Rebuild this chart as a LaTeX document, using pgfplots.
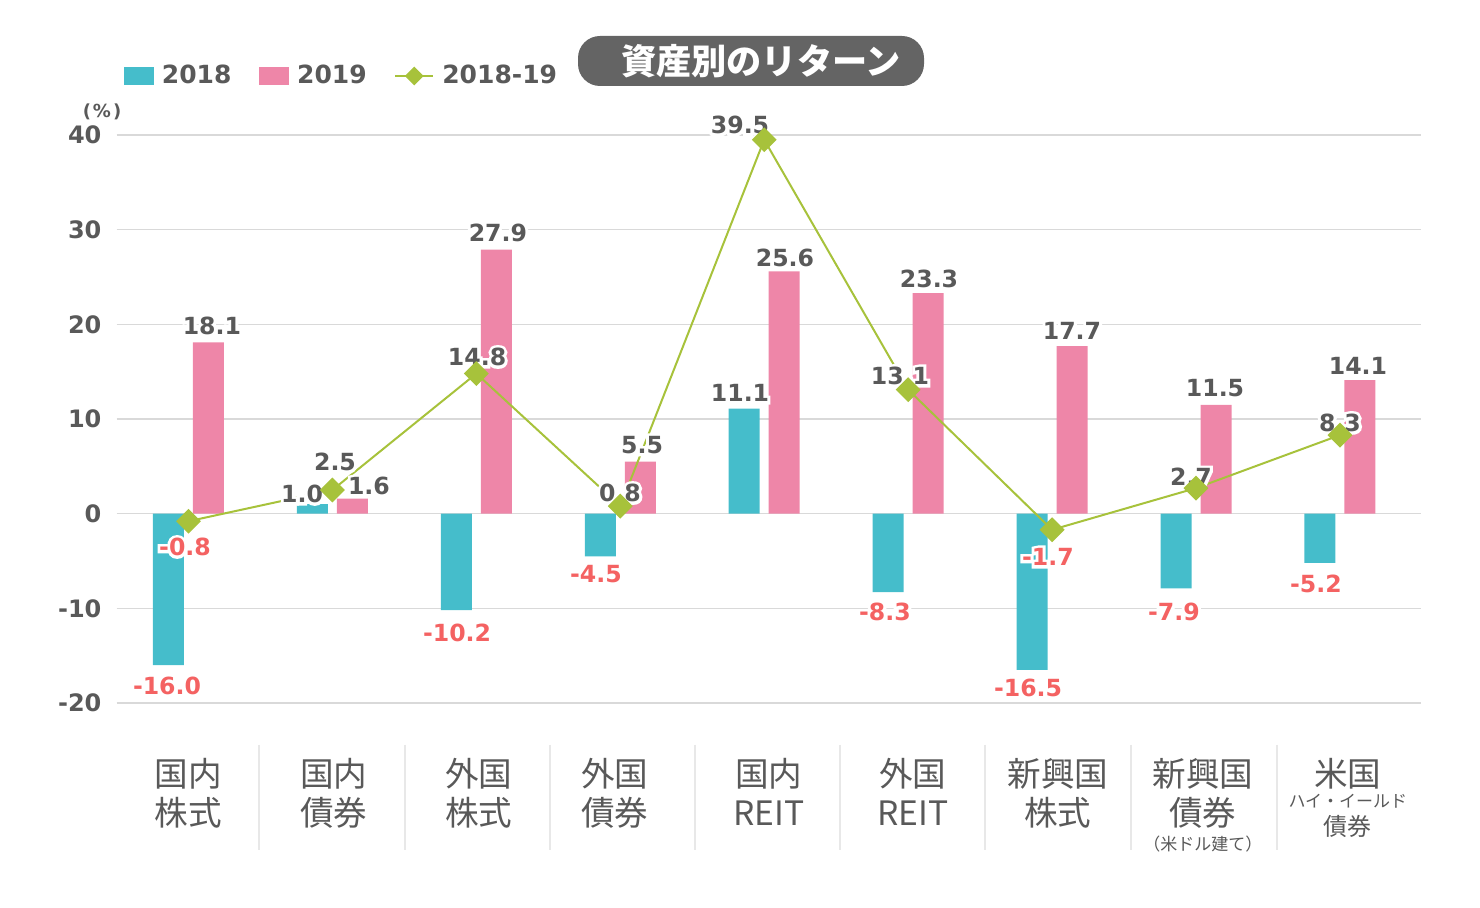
\documentclass[border=0pt]{standalone}
\usepackage{fontspec}
\setmainfont{DejaVu Sans}
\newfontfamily\halo{DejaVu Sans}[BoldFeatures={FakeBold=25}]
\newfontfamily\jp{Noto Sans CJK JP}
\usepackage{pgfplots}
\pgfplotsset{compat=1.18}
\definecolor{tealc}{HTML}{45BDCB}
\definecolor{pinkc}{HTML}{EE86A8}
\definecolor{greenc}{HTML}{A7C23B}
\definecolor{txt}{HTML}{595959}
\definecolor{negc}{HTML}{F46262}
\definecolor{gridc}{HTML}{D9D9D9}
\definecolor{sepc}{HTML}{E8E8E8}
\definecolor{titlebg}{HTML}{646464}
\newcommand{\lab}[3]{\node[font=\halo\bfseries\fontsize{11.8}{12}\selectfont, text=white, inner sep=0pt] at (axis cs:#1,#2) {#3};\node[font=\bfseries\fontsize{11.8}{12}\selectfont, text=txt, inner sep=0pt] at (axis cs:#1,#2) {#3};}
\newcommand{\labn}[3]{\node[font=\halo\bfseries\fontsize{11.8}{12}\selectfont, text=white, inner sep=0pt] at (axis cs:#1,#2) {#3};\node[font=\bfseries\fontsize{11.8}{12}\selectfont, text=negc, inner sep=0pt] at (axis cs:#1,#2) {#3};}
\begin{document}
\begin{tikzpicture}
\begin{scope}[x=0.5pt,y=0.5pt]
\useasboundingbox (0,0) rectangle (1480,907);
\node[fill=titlebg, rounded corners=11pt, minimum width=173pt, minimum height=25pt, inner sep=0pt] at (751,846) {};
\node[inner sep=0pt, text=white, font=\jp\bfseries\fontsize{17.6}{18}\selectfont] at (761,846) {資産別のリターン};
\node[font=\bfseries\fontsize{9}{9}\selectfont, text=txt, inner sep=0pt] at (102,795) {(\kern1pt\%\kern1pt)};
\end{scope}
\begin{axis}[
 at={(58.25pt,102pt)}, anchor=south west,
 scale only axis, width=652.25pt, height=284pt,
 xmin=-0.5, xmax=8.563, ymin=-20, ymax=40,
 ytick={-20,-10,0,10,20,30,40},
 yticklabels={-20,-10,0,10,20,30,40},
 xtick={0,1.011,2.018,2.963,4.033,5.033,6.040,7.048,8.055},
 xticklabels={{国内\\株式},{国内\\債券},{外国\\株式},{外国\\債券},{国内\\REIT},{外国\\REIT},{新興国\\株式},{新興国\\債券\\[-7pt]{\fontsize{8.5}{11}\selectfont （米ドル建て）}},{米国\\[-9pt]{\fontsize{8.5}{13}\selectfont ハイ・イールド}\\[-5.5pt]{\fontsize{12}{12}\selectfont 債券}}},
 axis line style={draw=none},
 major tick length=0pt,
 ymajorgrids, grid style={gridc, line width=0.75pt},
 tick label style={text=txt},
 yticklabel style={font=\bfseries\fontsize{12}{12}\selectfont, xshift=-4pt},
 xticklabel style={font=\jp\fontsize{16.8}{19.5}\selectfont, align=center, anchor=north, yshift=-24pt},
 clip=false,
 legend style={at={(0.0054,1.1039)}, anchor=west, draw=none, fill=none, inner sep=0pt,
   font=\bfseries\fontsize{12.5}{12.5}\selectfont, text=txt, nodes={inner sep=0pt},
   /tikz/every odd column/.append style={column sep=4pt},
   /tikz/every even column/.append style={column sep=13.8pt}},
 legend columns=-1,
]
\pgfplotsinvokeforeach{0.490,1.504,2.512,3.519,4.526,5.534,6.548,7.562}{\draw[sepc, line width=0.6pt] (axis cs:#1,-24.4) -- (axis cs:#1,-35.5);}
\addplot[ybar, bar width=15.5pt, bar shift=-10pt, fill=tealc, draw=none,
  legend image code/.code={\fill[tealc] (0pt,-4.5pt) rectangle (15pt,4.5pt);}]
  coordinates {(0,-16.0) (1,1.0) (2,-10.2) (3,-4.5) (4,11.1) (5,-8.3) (6,-16.5) (7,-7.9) (8,-5.2)};
\addlegendentry{2018}
\addplot[ybar, bar width=15.5pt, bar shift=10pt, fill=pinkc, draw=none,
  legend image code/.code={\fill[pinkc] (0pt,-4.5pt) rectangle (15pt,4.5pt);}]
  coordinates {(0,18.1) (1,1.6) (2,27.9) (3,5.5) (4,25.6) (5,23.3) (6,17.7) (7,11.5) (8,14.1)};
\addlegendentry{2019}
\addplot[greenc, line width=1pt, mark=square*, mark size=3.9pt, mark options={rotate=45, fill=greenc, draw=greenc},
  legend image code/.code={\draw[greenc, line width=1pt] (0pt,0pt) -- (19pt,0pt); \fill[greenc, rotate around={45:(9.5pt,0pt)}] (6.7pt,-2.8pt) rectangle (12.3pt,2.8pt);}]
  coordinates {(0,-0.8) (1,2.5) (2,14.8) (3,0.8) (4,39.5) (5,13.1) (6,-1.7) (7,2.7) (8,8.3)};
\addlegendentry{2018-19}
% data labels
\lab{0.163}{19.82}{18.1}
\labn{-0.149}{-18.2}{-16.0}
\labn{-0.024}{-3.52}{-0.8}
\lab{1.018}{5.46}{2.5}
\lab{0.789}{2.08}{1.0}
\lab{1.254}{2.92}{1.6}
\lab{2.150}{29.65}{27.9}
\labn{1.866}{-12.6}{-10.2}
\lab{2.005}{16.55}{14.8}
\lab{3.151}{7.25}{5.5}
\labn{2.831}{-6.37}{-4.5}
\lab{2.998}{2.18}{0.8}
\lab{3.832}{41.06}{39.5}
\lab{4.144}{27.01}{25.6}
\lab{3.832}{12.75}{11.1}
\lab{5.145}{24.79}{23.3}
\labn{4.839}{-10.39}{-8.3}
\lab{4.943}{14.54}{13.1}
\lab{6.138}{19.3}{17.7}
\labn{5.833}{-18.42}{-16.5}
\labn{5.971}{-4.58}{-1.7}
\lab{7.132}{13.27}{11.5}
\labn{6.847}{-10.39}{-7.9}
\lab{6.965}{3.87}{2.7}
\lab{8.125}{15.6}{14.1}
\labn{7.833}{-7.43}{-5.2}
\lab{8.000}{9.58}{8.3}
\end{axis}
\end{tikzpicture}
\end{document}
